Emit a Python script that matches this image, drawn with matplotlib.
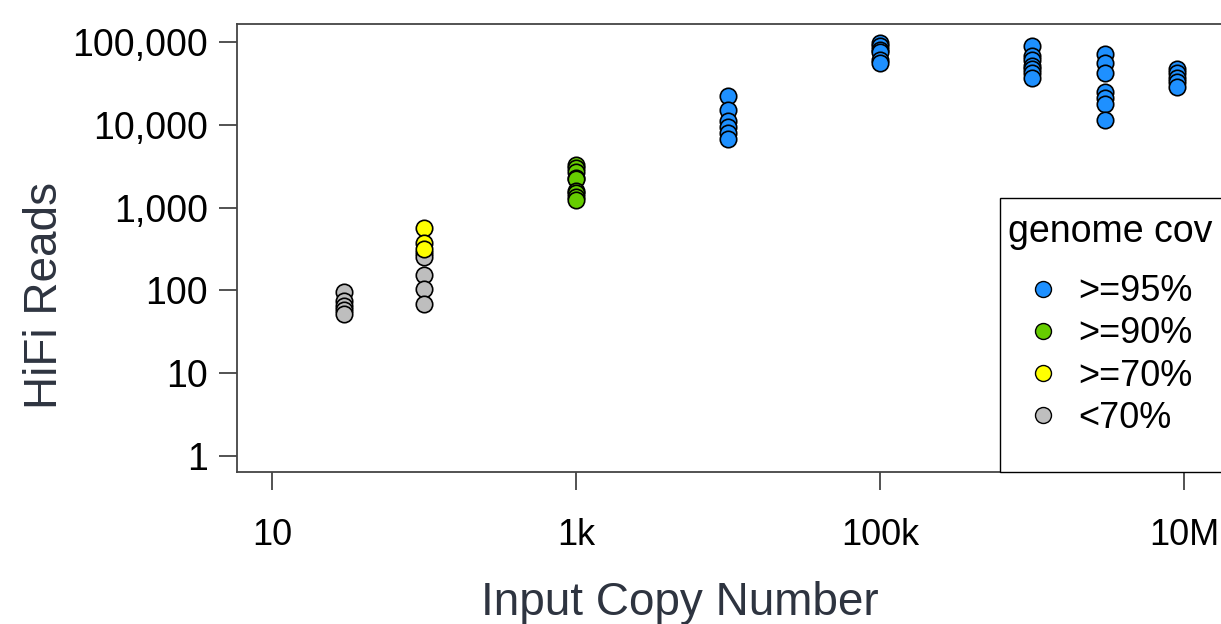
import matplotlib
matplotlib.use("Agg")
import matplotlib.pyplot as plt
from matplotlib.lines import Line2D
from matplotlib.patches import Rectangle
from matplotlib.ticker import FixedLocator, NullLocator

plt.rcParams['font.family'] = ['Liberation Sans', 'DejaVu Sans']

# input copy number for each group of runs
copies = [30, 100, 1000, 1e4, 1e5, 1e6, 3e6, 9e6]

# hifi reads per run, split by genome coverage class
reads_95 = {
    1e4: [22000, 15000, 11000, 9500, 8000, 6800],
    1e5: [98000, 90000, 80000, 75000, 60000, 55000],
    1e6: [90000, 68000, 60000, 52000, 47000, 42000, 37000],
    3e6: [72000, 55000, 42000, 25000, 21000, 18000, 11500],
    9e6: [47000, 42000, 37000, 33000, 29000],
}
reads_90 = {
    1000: [3300, 3000, 2700, 2300, 2200, 1600, 1500, 1350, 1250],
}
reads_70 = {
    100: [560, 370, 320],
}
reads_lt70 = {
    30: [95, 75, 65, 58, 52],
    100: [280, 250, 155, 105, 68],
}

groups = [reads_lt70, reads_70, reads_90, reads_95]
colors = ['#BEBEBE', '#FFFF00', '#66CD00', '#1E90FF']
labels = ['<70%', '>=70%', '>=90%', '>=95%']

xticks = [10, 1e3, 1e5, 1e7]
xticklabels = ['10', '1k', '100k', '10M']
yticks = [1, 10, 100, 1000, 10000, 100000]
yticklabels = ['1', '10', '100', '1,000', '10,000', '100,000']

fig = plt.figure(figsize=(12.21, 6.24), dpi=100)
ax = fig.add_axes([237 / 1221, 1 - 472 / 624, 988 / 1221, 448 / 624])

for grp, col in zip(groups, colors):
    for x, ys in grp.items():
        ax.scatter([x] * len(ys), ys, s=140, c=col, edgecolors='black',
                   linewidths=1.2, zorder=3)

ax.set_xscale('log')
ax.set_yscale('log')
ax.set_xlim(5.89, 1.86e7)
ax.set_ylim(0.641, 164900)

ax.xaxis.set_major_locator(FixedLocator(xticks))
ax.xaxis.set_minor_locator(NullLocator())
ax.set_xticklabels(xticklabels)
ax.yaxis.set_major_locator(FixedLocator(yticks))
ax.yaxis.set_minor_locator(NullLocator())
ax.set_yticklabels(yticklabels)

for sp in ax.spines.values():
    sp.set_color('#444444')
    sp.set_linewidth(1.3)
ax.tick_params(axis='both', length=13, width=1.3, color='#444444',
               labelcolor='black')
ax.tick_params(axis='x', pad=20, labelsize=26)
ax.tick_params(axis='y', pad=8, labelsize=27)

ax.set_xlabel('Input Copy Number', fontsize=33, color='#2E3440')
ax.xaxis.set_label_coords(0.448, -0.292)
ax.xaxis.label.set_va('center')
ax.set_ylabel('HiFi Reads', fontsize=33, color='#2E3440')
ax.yaxis.set_label_coords(-0.194, 0.395)
ax.yaxis.label.set_va('center')


def px(x, y):
    # figure pixels -> axes fraction
    return (x - 237) / 988, (472 - y) / 448


# legend frame, reaching down to the bottom of the plot box
lx, ly = px(1000, 198)
ax.add_patch(Rectangle((lx, 0), 0.3, ly, transform=ax.transAxes,
                       facecolor='white', edgecolor='black', linewidth=1.0,
                       zorder=4, clip_on=False))
tx, ty = px(1008, 232)
ax.text(tx, ty, 'genome cov', transform=ax.transAxes, fontsize=27,
        ha='left', va='center', zorder=5)

handles = [Line2D([], [], ls='', marker='o', markersize=11.5,
                  markerfacecolor=c, markeredgecolor='black',
                  markeredgewidth=1.0) for c in colors[::-1]]
hx, hy = px(1043 - 0.7 * 26 * 100 / 72, 355)
leg = ax.legend(handles, labels[::-1], loc='center left',
                bbox_to_anchor=(hx, hy), fontsize=26, frameon=False,
                borderpad=0.0, labelspacing=0.2, handlelength=1.4,
                handletextpad=0.27, borderaxespad=0.0)
leg.set_zorder(5)

fig.savefig('out.png', dpi=100)
